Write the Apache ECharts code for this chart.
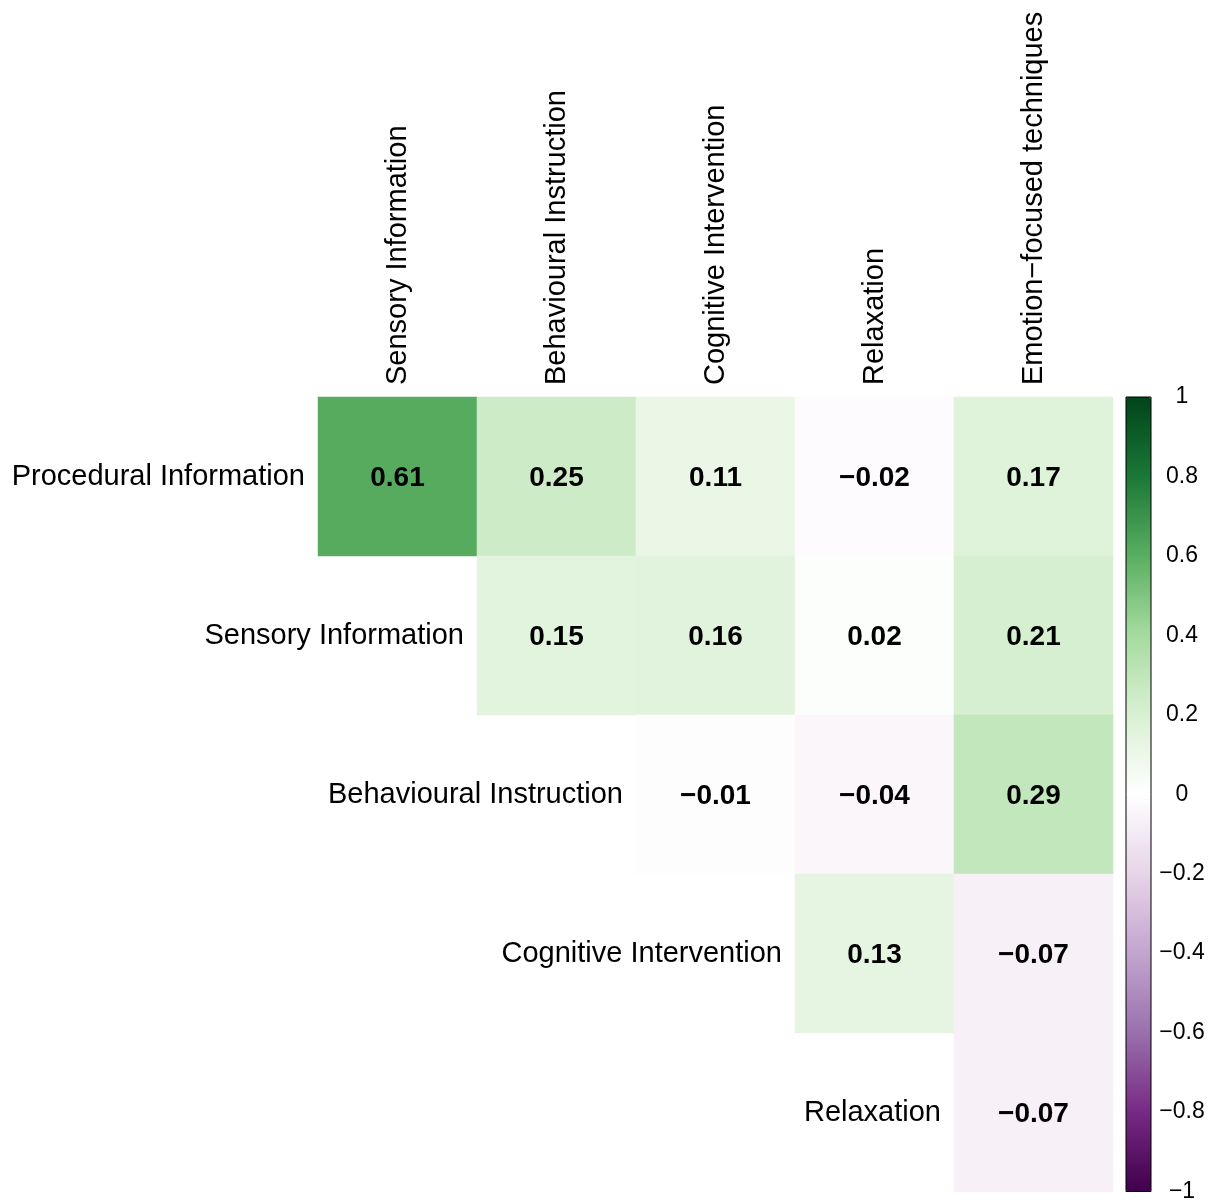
<!DOCTYPE html>
<html>
<head>
<meta charset="utf-8">
<title>Correlation matrix</title>
<script src="https://cdn.jsdelivr.net/npm/echarts@6/dist/echarts.min.js"></script>
<style>
  html, body { margin: 0; padding: 0; background: #ffffff; }
  #chart { width: 1213px; height: 1203px; }
</style>
</head>
<body>
<div id="chart"></div>
<script>
// Column variables (top axis)
const columns = [
  'Sensory Information',
  'Behavioural Instruction',
  'Cognitive Intervention',
  'Relaxation',
  'Emotion\u2212focused techniques'
];
// Row variables (labelled beside the first cell of each row)
const rows = [
  'Procedural Information',
  'Sensory Information',
  'Behavioural Instruction',
  'Cognitive Intervention',
  'Relaxation'
];
// Upper-triangle correlation coefficients (null = not shown)
const corr = [
  [0.61, 0.25, 0.11, -0.02, 0.17],
  [null, 0.15, 0.16, 0.02, 0.21],
  [null, null, -0.01, -0.04, 0.29],
  [null, null, null, 0.13, -0.07],
  [null, null, null, null, -0.07]
];
// Diverging purple-white-green palette from -1 to 1
const palette = ['#40004b', '#762a83', '#9970ab', '#c2a5cf', '#e7d4e8', '#ffffff',
                 '#d9f0d3', '#a6dba0', '#5aae61', '#1b7837', '#00441b'];

const FONT = '"Liberation Sans", Arial, sans-serif';
const fmtSigned = s => String(s).replace('-', '\u2212');

const cells = [];
corr.forEach((row, r) => row.forEach((v, c) => {
  if (v !== null) cells.push([c, r, v]);
}));
const rowLabels = rows.map((name, i) => [i, i, name]);

const chart = echarts.init(document.getElementById('chart'), null, { renderer: 'canvas' });
chart.setOption({
  backgroundColor: '#ffffff',
  animation: false,
  textStyle: { fontFamily: FONT },
  grid: [
    { left: 318, top: 397, width: 795, height: 795 },
    { left: 1126, top: 397, width: 25, height: 795, show: true,
      borderColor: '#000000', borderWidth: 1, backgroundColor: 'transparent', z: 10 }
  ],
  xAxis: [
    {
      type: 'category', data: columns, position: 'top', gridIndex: 0,
      axisLine: { show: false }, axisTick: { show: false }, splitLine: { show: false },
      axisLabel: { rotate: -90, fontSize: 29, color: '#000000', margin: 12, fontFamily: FONT }
    },
    { type: 'value', gridIndex: 1, show: false, min: 0, max: 1 }
  ],
  yAxis: [
    {
      type: 'category', data: rows, inverse: true, gridIndex: 0,
      axisLine: { show: false }, axisTick: { show: false }, axisLabel: { show: false },
      splitLine: { show: false }
    },
    {
      type: 'value', gridIndex: 1, position: 'right', min: -1, max: 1, interval: 0.2,
      axisLine: { show: false },
      axisTick: { show: true, length: 6, lineStyle: { color: '#000000', width: 1 } },
      splitLine: { show: false },
      axisLabel: {
        fontSize: 23, color: '#000000', margin: 31, align: 'center', fontFamily: FONT,
        formatter: v => fmtSigned(Math.round(v * 10) / 10)
      }
    }
  ],
  visualMap: {
    type: 'continuous', min: -1, max: 1, seriesIndex: 0,
    calculable: false, hoverLink: false, text: null, showLabel: false,
    orient: 'vertical', left: 1126, top: 397, padding: 0,
    itemWidth: 25, itemHeight: 795,
    inRange: { color: palette }
  },
  series: [
    {
      type: 'heatmap', xAxisIndex: 0, yAxisIndex: 0, data: cells,
      silent: true,
      label: {
        show: true, fontSize: 28, fontWeight: 'bold', color: '#000000', fontFamily: FONT,
        offset: [0, 2],
        formatter: p => fmtSigned(p.data[2].toFixed(2))
      },
      emphasis: { disabled: true }
    },
    {
      type: 'scatter', xAxisIndex: 0, yAxisIndex: 0, data: rowLabels,
      silent: true, symbolSize: 1, itemStyle: { color: 'rgba(255,255,255,0)', opacity: 1 },
      label: {
        show: true, position: 'left', distance: 92, fontSize: 29, color: '#000000',
        fontFamily: FONT, formatter: p => p.data[2]
      }
    }
  ]
});
</script>
</body>
</html>
